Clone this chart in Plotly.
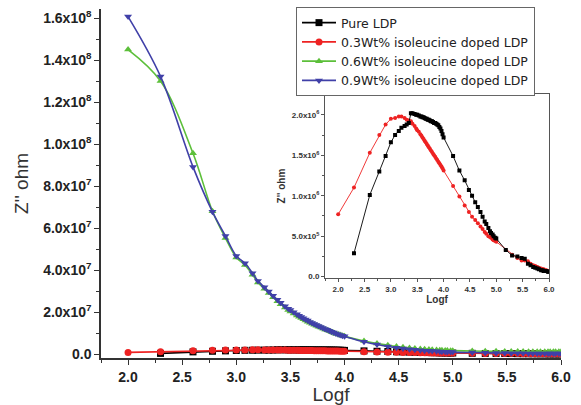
import plotly.graph_objects as go

# ---------------- data ----------------
logf = [2.0, 2.3, 2.6, 2.78, 2.9, 3.0, 3.08, 3.15, 3.2, 3.26,
        3.3, 3.34, 3.38, 3.41, 3.45, 3.48, 3.5, 3.53, 3.56, 3.58,
        3.6, 3.62, 3.64, 3.66, 3.68, 3.7, 3.72, 3.74, 3.76, 3.78,
        3.8, 3.82, 3.84, 3.86, 3.88, 3.9, 3.92, 3.94, 3.96, 3.98,
        4.0, 4.18, 4.3, 4.4, 4.48, 4.54, 4.6, 4.65, 4.7, 4.74,
        4.78, 4.81, 4.85, 4.88, 4.9, 4.93, 4.95, 4.98, 5.0, 5.18,
        5.3, 5.4, 5.48, 5.54, 5.6, 5.65, 5.7, 5.74, 5.78, 5.81,
        5.85, 5.88, 5.9, 5.93, 5.95, 5.98, 6.0]

# Pure LDP (starts at logf = 2.3), units of 1e6 ohm
logf_pure = logf[1:]
z_pure_1e6 = [0.29, 1.01, 1.30, 1.49, 1.66, 1.75, 1.80, 1.84, 1.86,
              1.88, 1.90, 2.02, 2.02, 2.01, 2.00, 2.00, 1.99, 1.98, 1.98,
              1.97, 1.97, 1.96, 1.95, 1.95, 1.94, 1.94, 1.93, 1.92, 1.92,
              1.91, 1.90, 1.90, 1.89, 1.88, 1.87, 1.85, 1.83, 1.80, 1.76,
              1.72, 1.49, 1.31, 1.19, 1.07, 1.00, 0.92, 0.86, 0.80, 0.74,
              0.68, 0.65, 0.60, 0.56, 0.54, 0.52, 0.50, 0.48, 0.47, 0.33,
              0.26, 0.25, 0.23, 0.22, 0.16, 0.14, 0.12, 0.11, 0.10, 0.09,
              0.08, 0.08, 0.07, 0.07, 0.07, 0.06, 0.06]

# 0.3 Wt% (units of 1e6 ohm)
z_03_1e6 = [0.77, 1.10, 1.53, 1.75, 1.88, 1.95, 1.96, 1.98, 1.98, 1.96,
            1.94, 1.93, 1.92, 1.89, 1.86, 1.83, 1.81, 1.79, 1.76, 1.74,
            1.72, 1.70, 1.68, 1.66, 1.64, 1.62, 1.60, 1.58, 1.56, 1.54,
            1.52, 1.50, 1.48, 1.46, 1.44, 1.42, 1.40, 1.38, 1.36, 1.34,
            1.31, 1.12, 0.99, 0.88, 0.80, 0.74, 0.70, 0.66, 0.62, 0.59,
            0.55, 0.53, 0.50, 0.49, 0.48, 0.46, 0.45, 0.44, 0.43, 0.33,
            0.27, 0.23, 0.20, 0.20, 0.19, 0.16, 0.14, 0.13, 0.12, 0.11,
            0.10, 0.09, 0.09, 0.08, 0.08, 0.07, 0.07]

# 0.6 Wt% (units of 1e8 ohm)
z_06_1e8 = [1.450, 1.300, 0.956, 0.680, 0.552, 0.460, 0.424, 0.378, 0.341, 0.311,
            0.291, 0.270, 0.251, 0.237, 0.221, 0.210, 0.203, 0.193, 0.183, 0.177,
            0.171, 0.165, 0.159, 0.154, 0.149, 0.144, 0.139, 0.134, 0.130, 0.126,
            0.121, 0.117, 0.113, 0.109, 0.105, 0.101, 0.097, 0.094, 0.090, 0.087,
            0.084, 0.062, 0.050, 0.042, 0.036, 0.032, 0.029, 0.026, 0.024, 0.023,
            0.021, 0.020, 0.019, 0.018, 0.018, 0.017, 0.017, 0.016, 0.016, 0.014,
            0.013, 0.013, 0.012, 0.012, 0.012, 0.012, 0.011, 0.011, 0.011, 0.011,
            0.011, 0.011, 0.011, 0.011, 0.011, 0.011, 0.011]

# 0.9 Wt% (units of 1e8 ohm)
z_09_1e8 = [1.607, 1.322, 0.891, 0.677, 0.562, 0.467, 0.432, 0.385, 0.348, 0.318,
            0.298, 0.277, 0.258, 0.244, 0.228, 0.216, 0.209, 0.199, 0.189, 0.182,
            0.176, 0.170, 0.164, 0.159, 0.153, 0.148, 0.143, 0.138, 0.133, 0.129,
            0.124, 0.119, 0.115, 0.111, 0.106, 0.102, 0.098, 0.094, 0.090, 0.087,
            0.084, 0.058, 0.045, 0.036, 0.030, 0.026, 0.023, 0.020, 0.018, 0.016,
            0.015, 0.014, 0.013, 0.012, 0.011, 0.011, 0.010, 0.010, 0.009, 0.007,
            0.006, 0.005, 0.005, 0.004, 0.004, 0.004, 0.003, 0.003, 0.003, 0.003,
            0.003, 0.002, 0.002, 0.002, 0.002, 0.002, 0.002]

names = ["Pure LDP", "0.3Wt% isoleucine doped LDP",
         "0.6Wt% isoleucine doped LDP", "0.9Wt% isoleucine doped LDP"]

main_yticks = [0, 2e7, 4e7, 6e7, 8e7, 1e8, 1.2e8, 1.4e8, 1.6e8]
main_ytext = ["0.0", "2.0x10<sup>7</sup>", "4.0x10<sup>7</sup>", "6.0x10<sup>7</sup>",
              "8.0x10<sup>7</sup>", "1.0x10<sup>8</sup>", "1.2x10<sup>8</sup>",
              "1.4x10<sup>8</sup>", "1.6x10<sup>8</sup>"]
inset_yticks = [0, 5e5, 1e6, 1.5e6, 2e6]
inset_ytext = ["0.0", "5.0x10<sup>5</sup>", "1.0x10<sup>6</sup>",
               "1.5x10<sup>6</sup>", "2.0x10<sup>6</sup>"]
xticks = [2.0, 2.5, 3.0, 3.5, 4.0, 4.5, 5.0, 5.5, 6.0]
xtext = ["2.0", "2.5", "3.0", "3.5", "4.0", "4.5", "5.0", "5.5", "6.0"]

# ---------------- styling ----------------
BLACK = "#000000"
RED = "#ee2222"
GREEN = "#5cbf3a"
BLUE = "#4040a8"
FONT = "Liberation Sans, Arial, sans-serif"

z_pure = [v * 1e6 for v in z_pure_1e6]
z_03 = [v * 1e6 for v in z_03_1e6]
z_06 = [v * 1e8 for v in z_06_1e8]
z_09 = [v * 1e8 for v in z_09_1e8]

fig = go.Figure()

main_series = [
    (logf_pure, z_pure, BLACK, "square", names[0], "linear"),
    (logf, z_03, RED, "circle", names[1], "linear"),
    (logf, z_06, GREEN, "triangle-up", names[2], "spline"),
    (logf, z_09, BLUE, "triangle-down", names[3], "spline"),
]
for xs, ys, col, sym, nm, shape in main_series:
    fig.add_trace(go.Scatter(
        x=xs, y=ys, name=nm, mode="lines+markers",
        line=dict(color=col, width=1.6, shape=shape),
        marker=dict(color=col, symbol=sym, size=7),
        xaxis="x", yaxis="y"))

# inset (red first, then black on top)
for xs, ys, col, sym in [(logf, z_03, RED, "circle"),
                         (logf_pure, z_pure, BLACK, "square")]:
    fig.add_trace(go.Scatter(
        x=xs, y=ys, mode="lines+markers", showlegend=False,
        line=dict(color=col, width=0.9),
        marker=dict(color=col, symbol=sym, size=4),
        xaxis="x2", yaxis="y2"))

W, H = 581, 405
L, R, T, B = 101, 20, 8, 47
ix0, ix1, iy0, iy1 = 325, 549, 93, 278

axis_common = dict(showgrid=False, zeroline=False, ticks="outside")

fig.update_layout(
    width=W, height=H,
    margin=dict(l=L, r=R, t=T, b=B, pad=0),
    paper_bgcolor="white", plot_bgcolor="rgba(0,0,0,0)",
    font=dict(family=FONT, color="#222222"),
    xaxis=dict(**axis_common, range=[1.75, 6.0], domain=[0, 1],
               tickmode="array", tickvals=xticks,
               ticktext=["<b>%s</b>" % t for t in xtext],
               tickfont=dict(size=14, color="#222222"),
               ticklen=5, tickwidth=1.3, tickcolor="#333333",
               showline=True, linecolor="#333333", linewidth=1.5,
               minor=dict(tickmode="linear", tick0=2.0, dtick=0.25,
                          ticks="outside", ticklen=3, tickcolor="#333333"),
               title=dict(text="Logf", font=dict(size=19, color="#333333"),
                          standoff=0)),
    yaxis=dict(**axis_common, range=[-1.9e6, 1.643e8], domain=[0, 1],
               tickmode="array", tickvals=main_yticks,
               ticktext=["<b>%s</b>" % t for t in main_ytext],
               tickfont=dict(size=14, color="#222222"),
               ticklen=5, tickwidth=1.3, tickcolor="#333333",
               showline=True, linecolor="#333333", linewidth=1.5,
               minor=dict(tickmode="linear", tick0=0, dtick=1e7,
                          ticks="outside", ticklen=3, tickcolor="#333333"),
               title=dict(text="Z'' ohm", font=dict(size=19, color="#333333"),
                          standoff=10)),
    xaxis2=dict(**axis_common, range=[1.75, 6.0], anchor="y2",
                domain=[(ix0 - L) / (W - L - R), (ix1 - L) / (W - L - R)],
                tickmode="array", tickvals=xticks,
                ticktext=["<b>%s</b>" % t for t in xtext],
                tickfont=dict(size=8, color="#333333"),
                ticklen=3, tickwidth=1, tickcolor="#555555",
                showline=True, linecolor="#555555", linewidth=1, mirror=True,
                minor=dict(tickmode="linear", tick0=2.0, dtick=0.25,
                           ticks="outside", ticklen=2, tickcolor="#555555"),
                title=dict(text="<b>Logf</b>", font=dict(size=10, color="#333333"),
                           standoff=3)),
    yaxis2=dict(**axis_common, range=[-2e4, 2.26e6], anchor="x2",
                domain=[(H - B - iy1) / (H - T - B), (H - B - iy0) / (H - T - B)],
                tickmode="array", tickvals=inset_yticks,
                ticktext=["<b>%s</b>" % t for t in inset_ytext],
                tickfont=dict(size=8, color="#333333"),
                ticklen=3, tickwidth=1, tickcolor="#555555",
                showline=True, linecolor="#555555", linewidth=1, mirror=True,
                minor=dict(tickmode="linear", tick0=0, dtick=2.5e5,
                           ticks="outside", ticklen=2, tickcolor="#555555"),
                title=dict(text="<b>Z'' ohm</b>", font=dict(size=10, color="#333333"),
                           standoff=4)),
    legend=dict(x=(296 - L) / (W - L - R), y=(H - B - 7) / (H - T - B),
                xanchor="left", yanchor="top",
                bgcolor="white", bordercolor="#666666", borderwidth=1,
                font=dict(size=12.5, color="#222222", family="DejaVu Sans, sans-serif"),
                tracegroupgap=0, itemwidth=34),
    showlegend=True,
)

fig.write_html("out.html")
